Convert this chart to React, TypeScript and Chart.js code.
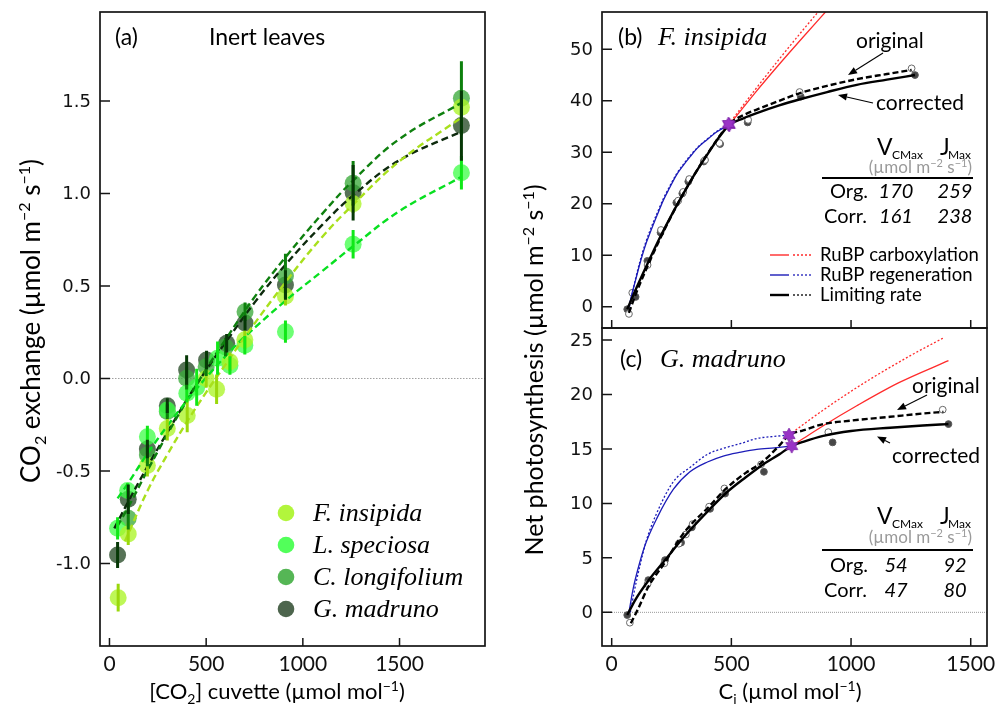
import { useEffect, useRef } from 'react';
import { Chart, registerables } from 'chart.js';

Chart.register(...registerables);

const W = 997;
const H = 712;

const SANS = 'Lato, "Open Sans", sans-serif';
const WIDE = '"DejaVu Sans", Verdana, sans-serif';
const SERIF = '"Liberation Serif", "Times New Roman", serif';

// ---------- (a) Inert leaves: CO2 exchange against cuvette CO2 ----------
const speciesNames = ['F. insipida', 'L. speciosa', 'C. longifolium', 'G. madruno'];

const insipidaCO2 = [45, 97, 196, 299, 402, 500, 554, 623, 700, 910, 1260, 1820];
const insipidaFlux = [-1.185, -0.84, -0.47, -0.27, -0.2, 0.0, -0.058, 0.09, 0.21, 0.445, 0.945, 1.466];
const insipidaErr = [0.075, 0.06, 0.06, 0.065, 0.09, 0.05, 0.08, 0.05, 0.05, 0.05, 0.05, 0.065];

const speciosaCO2 = [42, 94, 196, 299, 400, 451, 559, 623, 700, 910, 1260, 1820];
const speciosaFlux = [-0.81, -0.606, -0.315, -0.17, -0.08, -0.048, 0.11, 0.07, 0.18, 0.253, 0.725, 1.112];
const speciosaErr = [0.06, 0.04, 0.06, 0.04, 0.05, 0.1, 0.09, 0.05, 0.05, 0.06, 0.077, 0.09];

const longifoliumCO2 = [97, 196, 299, 399, 500, 600, 701, 910, 1260, 1820];
const longifoliumFlux = [-0.756, -0.414, -0.179, 0.001, 0.064, 0.17, 0.361, 0.554, 1.055, 1.515];
const longifoliumErr = [0.06, 0.06, 0.04, 0.06, 0.05, 0.05, 0.05, 0.12, 0.12, 0.2];

const madrunoCO2 = [42, 97, 196, 299, 399, 502, 606, 701, 910, 1260, 1820];
const madrunoFlux = [-0.954, -0.653, -0.381, -0.147, 0.046, 0.1, 0.19, 0.3, 0.505, 1.004, 1.367];
const madrunoErr = [0.07, 0.08, 0.05, 0.04, 0.08, 0.05, 0.05, 0.04, 0.08, 0.15, 0.19];

// fitted response curves (dashed)
const insipidaFitCO2 = [80, 200, 300, 400, 500, 600, 700, 910, 1100, 1260, 1500, 1820];
const insipidaFitFlux = [-0.88, -0.6, -0.41, -0.235, -0.075, 0.075, 0.225, 0.52, 0.765, 0.94, 1.175, 1.41];
const speciosaFitCO2 = [42, 100, 200, 300, 400, 500, 600, 700, 910, 1100, 1260, 1500, 1820];
const speciosaFitFlux = [-0.648, -0.56, -0.4, -0.255, -0.12, 0.005, 0.12, 0.225, 0.42, 0.58, 0.715, 0.905, 1.09];
const longifoliumFitCO2 = [40, 100, 200, 300, 400, 500, 600, 750, 910, 1100, 1260, 1500, 1820];
const longifoliumFitFlux = [-0.8, -0.69, -0.49, -0.3, -0.12, 0.05, 0.21, 0.44, 0.655, 0.89, 1.07, 1.295, 1.49];
const madrunoFitCO2 = [25, 100, 200, 300, 400, 500, 600, 750, 910, 1100, 1260, 1500, 1820];
const madrunoFitFlux = [-0.81, -0.66, -0.47, -0.29, -0.115, 0.045, 0.195, 0.41, 0.615, 0.83, 0.99, 1.18, 1.335];

const cuvetteTicks = [0, 500, 1000, 1500];
const exchangeTicks = [-1.0, -0.5, 0.0, 0.5, 1.0, 1.5];

// ---------- (b) F. insipida A/Ci ----------
const fiCiOrig = [72, 86, 150, 206, 278, 299, 324, 390, 450, 570, 785, 1253];
const fiAOrig = [-1.4, 2.7, 8.1, 14.9, 20.6, 22.3, 24.8, 28.5, 31.8, 36.3, 41.7, 46.3];
const fiCiCorr = [65, 100, 149, 204, 270, 295, 320, 385, 453, 568, 790, 1267];
const fiACorr = [-0.5, 1.9, 8.9, 14.4, 20.2, 22.0, 24.3, 28.2, 31.6, 35.8, 40.8, 45.0];

const fiLimCorrCi = [65, 100, 150, 200, 250, 300, 350, 400, 450, 491, 550, 606, 700, 787, 900, 1024, 1150, 1267];
const fiLimCorrA = [-0.5, 3.3, 8.4, 13.3, 17.8, 22.0, 26.0, 29.6, 33.0, 35.3, 36.6, 37.6, 39.1, 40.3, 41.7, 43.1, 44.1, 45.0];
const fiLimOrigCi = [72, 100, 150, 200, 250, 300, 350, 400, 450, 488, 550, 606, 700, 787, 900, 1024, 1150, 1253];
const fiLimOrigA = [-1.2, 2.4, 7.9, 13.0, 17.7, 22.0, 26.0, 29.7, 33.1, 35.4, 37.2, 38.3, 40.0, 41.5, 42.9, 44.2, 45.2, 46.0];
const fiCarbCorrCi = [491, 600, 700, 800, 900];
const fiCarbCorrA = [35.3, 41.6, 47.1, 52.4, 57.6];
const fiCarbOrigCi = [488, 600, 700, 800, 900];
const fiCarbOrigA = [35.4, 42.2, 48.1, 53.8, 59.3];
const fiRegCorrCi = [72, 85, 100, 118, 140, 160, 190, 216, 240, 271, 300, 327, 360, 397, 440, 491];
const fiRegCorrA = [0.0, 2.6, 5.2, 8.4, 11.8, 14.3, 17.8, 20.7, 22.9, 25.6, 27.5, 29.1, 30.9, 32.4, 34.0, 35.3];
const fiRegOrigCi = [74, 87, 100, 118, 140, 160, 190, 216, 240, 271, 300, 327, 360, 397, 440, 488];
const fiRegOrigA = [0.0, 2.8, 5.5, 8.8, 12.2, 14.8, 18.2, 21.0, 23.2, 25.8, 27.7, 29.3, 31.0, 32.5, 34.1, 35.4];
const fiTransCi = [491, 488];
const fiTransA = [35.3, 35.5];

const fiVcmax = [170, 161];
const fiJmax = [259, 238];

// ---------- (c) G. madruno A/Ci ----------
const gmCiOrig = [76, 150, 220, 280, 310, 338, 407, 471, 624, 905, 1383];
const gmAOrig = [-0.95, 2.6, 4.5, 6.3, 7.15, 8.1, 9.7, 11.37, 13.58, 16.54, 18.6];
const gmCiCorr = [65, 153, 223, 290, 335, 411, 474, 636, 923, 1407];
const gmACorr = [-0.25, 2.96, 4.8, 6.4, 7.8, 9.5, 10.9, 12.9, 15.6, 17.28];

const gmLimCorrCi = [65, 100, 153, 223, 299, 411, 480, 560, 634, 700, 752, 800, 884, 1000, 1163, 1300, 1407];
const gmLimCorrA = [-0.25, 1.2, 2.9, 4.8, 6.85, 9.5, 11.0, 12.4, 13.6, 14.5, 15.26, 15.65, 16.2, 16.65, 16.95, 17.15, 17.28];
const gmLimOrigCi = [80, 110, 153, 223, 300, 411, 480, 560, 624, 700, 741, 800, 884, 1000, 1163, 1300, 1386];
const gmLimOrigA = [-1.0, 0.3, 2.35, 4.6, 7.25, 9.8, 11.4, 12.8, 13.7, 15.3, 16.27, 16.7, 17.28, 17.6, 17.95, 18.25, 18.4];
const gmCarbCorrCi = [752, 800, 884, 1024, 1200, 1407];
const gmCarbCorrA = [15.26, 15.95, 17.13, 18.96, 21.08, 23.1];
const gmCarbOrigCi = [741, 800, 884, 1000, 1100, 1250, 1386];
const gmCarbOrigA = [16.27, 17.24, 18.57, 20.29, 21.67, 23.59, 25.19];
const gmRegCorrCi = [72, 90, 110, 140, 188, 258, 327, 400, 466, 540, 606, 680, 752];
const gmRegCorrA = [0.0, 2.2, 4.0, 6.2, 8.6, 11.3, 12.9, 13.8, 14.35, 14.7, 14.95, 15.1, 15.26];
const gmRegOrigCi = [78, 95, 115, 145, 188, 258, 327, 400, 466, 540, 606, 680, 741];
const gmRegOrigA = [0.0, 2.0, 4.0, 6.6, 9.1, 12.0, 13.3, 14.5, 15.05, 15.5, 15.96, 16.15, 16.27];
const gmTransCi = [752, 741];
const gmTransA = [15.26, 16.27];

const gmVcmax = [54, 47];
const gmJmax = [92, 80];

const ciTicks = [0, 500, 1000, 1500];
const fiATicks = [0, 10, 20, 30, 40, 50];
const gmATicks = [0, 5, 10, 15, 20, 25];

// ---------- styling ----------
const speciesPoint = ['rgba(172,245,40,0.78)', 'rgba(60,255,70,0.75)', 'rgba(60,170,60,0.78)', 'rgba(40,75,40,0.78)'];
const speciesLegend = ['#b2f53c', '#52ff5a', '#55b655', '#4d654d'];
const speciesBar = ['#9ad80c', '#10e818', '#0d800d', '#063806'];
const speciesLine = ['#a8e01c', '#08e020', '#0f800f', '#0d2a0d'];

const RED = '#ff2b2b';
const BLUE = '#1c1cb8';
const PURPLE = '#9a34c6';

type Seg = { t: string; s?: 'sub' | 'sup' };

function xy(xs: number[], ys: number[]) {
  return xs.map((x, i) => ({ x, y: ys[i] }));
}

function drawRich(ctx: CanvasRenderingContext2D, segs: Seg[], x: number, y: number, size: number, opts: any = {}) {
  const align = opts.align || 'left';
  const family = opts.family || SANS;
  const style = opts.style || '';
  const fontFor = (s: Seg) => `${style} ${s.s ? Math.round(size * 0.62) : size}px ${family}`;
  let total = 0;
  for (const s of segs) {
    ctx.font = fontFor(s);
    total += ctx.measureText(s.t).width;
  }
  let cx = align === 'center' ? x - total / 2 : align === 'right' ? x - total : x;
  ctx.fillStyle = opts.color || '#000';
  ctx.textAlign = 'left';
  ctx.textBaseline = 'alphabetic';
  for (const s of segs) {
    ctx.font = fontFor(s);
    const dy = s.s === 'sub' ? size * 0.22 : s.s === 'sup' ? -size * 0.38 : 0;
    ctx.fillText(s.t, cx, y + dy);
    cx += ctx.measureText(s.t).width;
  }
}

function drawText(ctx: CanvasRenderingContext2D, t: string, x: number, y: number, font: string, align: CanvasTextAlign = 'left', color = '#000') {
  ctx.font = font;
  ctx.fillStyle = color;
  ctx.textAlign = align;
  ctx.textBaseline = 'alphabetic';
  ctx.fillText(t, x, y);
}

function drawArrow(ctx: CanvasRenderingContext2D, x1: number, y1: number, x2: number, y2: number) {
  const ang = Math.atan2(y2 - y1, x2 - x1);
  const len = 9;
  const half = 3.6;
  const bx = x2 - len * Math.cos(ang);
  const by = y2 - len * Math.sin(ang);
  ctx.strokeStyle = '#000';
  ctx.fillStyle = '#000';
  ctx.lineWidth = 1.1;
  ctx.setLineDash([]);
  ctx.beginPath();
  ctx.moveTo(x1, y1);
  ctx.lineTo(bx, by);
  ctx.stroke();
  ctx.beginPath();
  ctx.moveTo(x2, y2);
  ctx.lineTo(bx + half * Math.sin(ang), by - half * Math.cos(ang));
  ctx.lineTo(bx - half * Math.sin(ang), by + half * Math.cos(ang));
  ctx.closePath();
  ctx.fill();
}

function drawFrame(chart: any, xTicks: number[], yTicks: number[], xLabels: boolean, yFmt: (v: number) => string, yLabelRight: number) {
  const { ctx, chartArea: a, scales } = chart;
  ctx.save();
  ctx.setLineDash([]);
  ctx.strokeStyle = '#151515';
  ctx.lineWidth = 1.7;
  ctx.strokeRect(a.left, a.top, a.right - a.left, a.bottom - a.top);
  ctx.lineWidth = 1.5;
  ctx.beginPath();
  for (const v of xTicks) {
    const px = scales.x.getPixelForValue(v);
    ctx.moveTo(px, a.bottom);
    ctx.lineTo(px, a.bottom - 8);
  }
  for (const v of yTicks) {
    const py = scales.y.getPixelForValue(v);
    ctx.moveTo(a.left, py);
    ctx.lineTo(a.left + 10, py);
  }
  ctx.stroke();
  ctx.fillStyle = '#111';
  ctx.textBaseline = 'middle';
  if (xLabels) {
    ctx.font = `21px ${SANS}`;
    ctx.textAlign = 'center';
    for (const v of xTicks) ctx.fillText(String(v), scales.x.getPixelForValue(v), a.bottom + 18);
  }
  ctx.font = `18px ${WIDE}`;
  ctx.textAlign = 'right';
  for (const v of yTicks) ctx.fillText(yFmt(v), yLabelRight, scales.y.getPixelForValue(v) + 1);
  ctx.restore();
}

function drawZeroLine(chart: any, color: string, dash: number[]) {
  const { ctx, chartArea: a, scales } = chart;
  const py = scales.y.getPixelForValue(0);
  ctx.save();
  ctx.strokeStyle = color;
  ctx.lineWidth = 1;
  ctx.setLineDash(dash);
  ctx.beginPath();
  ctx.moveTo(a.left, py);
  ctx.lineTo(a.right, py);
  ctx.stroke();
  ctx.restore();
}

function baseOptions(area: { l: number; t: number; r: number; b: number }, xr: number[], yr: number[]) {
  return {
    animation: false,
    responsive: false,
    maintainAspectRatio: false,
    events: [],
    layout: { padding: { left: area.l, top: area.t, right: W - area.r, bottom: H - area.b } },
    scales: {
      x: { type: 'linear', display: false, min: xr[0], max: xr[1] },
      y: { type: 'linear', display: false, min: yr[0], max: yr[1] },
    },
    plugins: { legend: { display: false }, tooltip: { enabled: false } },
  };
}

function makeStar(): HTMLCanvasElement {
  const c = document.createElement('canvas');
  c.width = 16;
  c.height = 16;
  const g = c.getContext('2d')!;
  g.translate(8, 8);
  g.fillStyle = PURPLE;
  g.strokeStyle = '#7a1fa6';
  g.lineWidth = 0.8;
  g.beginPath();
  for (let k = 0; k < 12; k++) {
    const r = k % 2 === 0 ? 7 : 3.9;
    const ang = -Math.PI / 2 + (k * Math.PI) / 6;
    const px = r * Math.cos(ang);
    const py = r * Math.sin(ang);
    if (k === 0) g.moveTo(px, py);
    else g.lineTo(px, py);
  }
  g.closePath();
  g.fill();
  g.stroke();
  return c;
}

// ---------- panel (a) ----------
function configA(): any {
  const fitX = [insipidaFitCO2, speciosaFitCO2, longifoliumFitCO2, madrunoFitCO2];
  const fitY = [insipidaFitFlux, speciosaFitFlux, longifoliumFitFlux, madrunoFitFlux];
  const obsX = [insipidaCO2, speciosaCO2, longifoliumCO2, madrunoCO2];
  const obsY = [insipidaFlux, speciosaFlux, longifoliumFlux, madrunoFlux];
  const obsE = [insipidaErr, speciosaErr, longifoliumErr, madrunoErr];

  const lines = speciesNames.map((name, i) => ({
    label: name + ' fit',
    data: xy(fitX[i], fitY[i]),
    showLine: true,
    pointRadius: 0,
    borderColor: speciesLine[i],
    borderWidth: 2.4,
    borderDash: [7, 4],
    tension: 0.4,
    fill: false,
  }));
  const points = speciesNames.map((name, i) => ({
    label: name,
    data: xy(obsX[i], obsY[i]),
    errors: obsE[i],
    errorColor: speciesBar[i],
    showLine: false,
    pointRadius: 8.5,
    pointBorderWidth: 0,
    backgroundColor: speciesPoint[i],
    borderColor: 'rgba(0,0,0,0)',
  }));

  const plugin = {
    id: 'panelA',
    beforeDatasetsDraw(chart: any) {
      drawZeroLine(chart, '#a0a0a0', [1.5, 1.5]);
    },
    afterDatasetsDraw(chart: any) {
      const { ctx, scales } = chart;
      ctx.save();
      ctx.lineWidth = 3;
      ctx.setLineDash([]);
      chart.data.datasets.forEach((ds: any) => {
        if (!ds.errors) return;
        ctx.strokeStyle = ds.errorColor;
        ctx.beginPath();
        ds.data.forEach((p: any, i: number) => {
          const px = scales.x.getPixelForValue(p.x);
          ctx.moveTo(px, scales.y.getPixelForValue(p.y + ds.errors[i]));
          ctx.lineTo(px, scales.y.getPixelForValue(p.y - ds.errors[i]));
        });
        ctx.stroke();
      });
      ctx.restore();
    },
    afterDraw(chart: any) {
      const { ctx } = chart;
      drawFrame(chart, cuvetteTicks, exchangeTicks, true, (v) => v.toFixed(1), 91);
      ctx.save();
      drawText(ctx, '(a)', 115, 45, `23px ${SANS}`);
      drawText(ctx, 'Inert leaves', 209, 45, `23px ${SANS}`);
      // legend
      const rows = [513, 545, 577, 609];
      speciesNames.forEach((name, i) => {
        ctx.fillStyle = speciesLegend[i];
        ctx.beginPath();
        ctx.arc(286, rows[i], 8.3, 0, Math.PI * 2);
        ctx.fill();
        drawText(ctx, name, 313, rows[i] + 8, `italic 26px ${SERIF}`);
      });
      // axis titles
      drawRich(ctx, [{ t: '[CO' }, { t: '2', s: 'sub' }, { t: '] cuvette (µmol mol' }, { t: '−1', s: 'sup' }, { t: ')' }], 277, 699, 22, { align: 'center' });
      ctx.translate(40, 321);
      ctx.rotate(-Math.PI / 2);
      drawRich(ctx, [{ t: 'CO' }, { t: '2', s: 'sub' }, { t: ' exchange (µmol m' }, { t: '−2', s: 'sup' }, { t: ' s' }, { t: '−1', s: 'sup' }, { t: ')' }], 0, 0, 26, { align: 'center' });
      ctx.restore();
    },
  };

  return {
    type: 'scatter',
    data: { datasets: [...lines, ...points] },
    options: baseOptions({ l: 100, t: 12, r: 485, b: 646 }, [-49, 1942], [-1.446, 1.981]),
    plugins: [plugin],
  };
}

// ---------- panels (b) and (c) ----------
function aciDatasets(d: any, star: HTMLCanvasElement) {
  const curve = (data: any, color: string, width: number, dash: number[]) => ({
    data,
    showLine: true,
    pointRadius: 0,
    borderColor: color,
    borderWidth: width,
    borderDash: dash,
    cubicInterpolationMode: 'monotone',
    fill: false,
  });
  return [
    { data: d.trans, pointStyle: star, pointRadius: 6, showLine: false },
    curve(d.limCorr, '#000', 2.4, []),
    curve(d.limOrig, '#000', 2.4, [6, 3]),
    curve(d.carbCorr, RED, 1.3, []),
    curve(d.carbOrig, RED, 1.3, [2, 2]),
    curve(d.regCorr, BLUE, 1.3, []),
    curve(d.regOrig, BLUE, 1.3, [2, 2]),
    { data: d.orig, showLine: false, pointRadius: 3.4, backgroundColor: '#fff', borderColor: '#6a6a6a', borderWidth: 1 },
    { data: d.corr, showLine: false, pointRadius: 3.4, backgroundColor: '#474747', borderColor: '#5a5a5a', borderWidth: 1 },
  ];
}

function drawTable(ctx: CanvasRenderingContext2D, lineY: number, vc: number[], jm: number[], dy: number[]) {
  drawText(ctx, 'V', 877, lineY + dy[0], `23px ${SANS}`);
  drawText(ctx, 'CMax', 892, lineY + dy[0] + 4, `12px ${SANS}`);
  drawText(ctx, 'J', 940, lineY + dy[0], `23px ${SANS}`);
  drawText(ctx, 'Max', 948, lineY + dy[0] + 4, `12px ${SANS}`);
  drawRich(ctx, [{ t: '(µmol m' }, { t: '−2', s: 'sup' }, { t: ' s' }, { t: '−1', s: 'sup' }, { t: ')' }], 972, lineY + dy[1], 17, { align: 'right', color: '#9a9a9a' });
  ctx.strokeStyle = '#000';
  ctx.lineWidth = 2;
  ctx.setLineDash([]);
  ctx.beginPath();
  ctx.moveTo(822, lineY);
  ctx.lineTo(973, lineY);
  ctx.stroke();
  drawText(ctx, 'Org.', 868, lineY + dy[2], `20px ${SANS}`, 'right');
  drawText(ctx, 'Corr.', 867, lineY + dy[3], `20px ${SANS}`, 'right');
  drawText(ctx, String(vc[0]), 896, lineY + dy[2], `italic 20px ${SANS}`, 'center');
  drawText(ctx, String(jm[0]), 955, lineY + dy[2], `italic 20px ${SANS}`, 'center');
  drawText(ctx, String(vc[1]), 896, lineY + dy[3], `italic 20px ${SANS}`, 'center');
  drawText(ctx, String(jm[1]), 955, lineY + dy[3], `italic 20px ${SANS}`, 'center');
}

function configB(star: HTMLCanvasElement): any {
  const plugin = {
    id: 'panelB',
    afterDraw(chart: any) {
      const { ctx } = chart;
      drawFrame(chart, ciTicks, fiATicks, false, (v) => String(v), 593);
      ctx.save();
      drawText(ctx, '(b)', 618, 45, `23px ${SANS}`);
      drawText(ctx, 'F. insipida', 658, 45, `italic 26px ${SERIF}`);
      drawText(ctx, 'original', 856, 48, `21px ${SANS}`);
      drawText(ctx, 'corrected', 876, 110, `21px ${SANS}`);
      drawArrow(ctx, 883, 53, 848, 75);
      drawArrow(ctx, 873, 103, 838, 95);
      drawTable(ctx, 178, fiVcmax, fiJmax, [-23, -5, 20, 44.5]);
      // line-type key
      const keys = [
        { c: RED, t: 'RuBP carboxylation', y: 255, w: 1.4 },
        { c: BLUE, t: 'RuBP regeneration', y: 275, w: 1.4 },
        { c: '#000', t: 'Limiting rate', y: 295, w: 2.4 },
      ];
      for (const k of keys) {
        ctx.strokeStyle = k.c;
        ctx.lineWidth = k.w;
        ctx.setLineDash([]);
        ctx.beginPath();
        ctx.moveTo(770, k.y);
        ctx.lineTo(789, k.y);
        ctx.stroke();
        ctx.setLineDash([2, 2]);
        ctx.lineWidth = 1.3;
        ctx.beginPath();
        ctx.moveTo(793, k.y);
        ctx.lineTo(811, k.y);
        ctx.stroke();
        drawText(ctx, k.t, 820, k.y + 6, `18.5px ${SANS}`);
      }
      ctx.restore();
    },
  };
  const d = {
    trans: xy(fiTransCi, fiTransA),
    limCorr: xy(fiLimCorrCi, fiLimCorrA),
    limOrig: xy(fiLimOrigCi, fiLimOrigA),
    carbCorr: xy(fiCarbCorrCi, fiCarbCorrA),
    carbOrig: xy(fiCarbOrigCi, fiCarbOrigA),
    regCorr: xy(fiRegCorrCi, fiRegCorrA),
    regOrig: xy(fiRegOrigCi, fiRegOrigA),
    orig: xy(fiCiOrig, fiAOrig),
    corr: xy(fiCiCorr, fiACorr),
  };
  return {
    type: 'scatter',
    data: { datasets: aciDatasets(d, star) },
    options: baseOptions({ l: 602, t: 12, r: 987, b: 328 }, [-40.5, 1568], [-4.14, 57.25]),
    plugins: [plugin],
  };
}

function configC(star: HTMLCanvasElement): any {
  const plugin = {
    id: 'panelC',
    beforeDatasetsDraw(chart: any) {
      drawZeroLine(chart, '#9a9a9a', [1, 1]);
    },
    afterDraw(chart: any) {
      const { ctx } = chart;
      drawFrame(chart, ciTicks, gmATicks, true, (v) => String(v), 593);
      ctx.save();
      drawText(ctx, '(c)', 620, 367, `23px ${SANS}`);
      drawText(ctx, 'G. madruno', 660, 367, `italic 26px ${SERIF}`);
      drawText(ctx, 'original', 912, 393, `21px ${SANS}`);
      drawText(ctx, 'corrected', 892, 463, `21px ${SANS}`);
      drawArrow(ctx, 927, 395, 897, 410);
      drawArrow(ctx, 890, 443, 877, 436.5);
      drawTable(ctx, 550, gmVcmax, gmJmax, [-26, -7, 22, 47]);
      // shared titles for (b) and (c)
      drawRich(ctx, [{ t: 'C' }, { t: 'i', s: 'sub' }, { t: ' (µmol mol' }, { t: '−1', s: 'sup' }, { t: ')' }], 790, 699, 22, { align: 'center' });
      ctx.translate(543, 370);
      ctx.rotate(-Math.PI / 2);
      drawRich(ctx, [{ t: 'Net photosynthesis (µmol m' }, { t: '−2', s: 'sup' }, { t: ' s' }, { t: '−1', s: 'sup' }, { t: ')' }], 0, 0, 25, { align: 'center' });
      ctx.restore();
    },
  };
  const d = {
    trans: xy(gmTransCi, gmTransA),
    limCorr: xy(gmLimCorrCi, gmLimCorrA),
    limOrig: xy(gmLimOrigCi, gmLimOrigA),
    carbCorr: xy(gmCarbCorrCi, gmCarbCorrA),
    carbOrig: xy(gmCarbOrigCi, gmCarbOrigA),
    regCorr: xy(gmRegCorrCi, gmRegCorrA),
    regOrig: xy(gmRegOrigCi, gmRegOrigA),
    orig: xy(gmCiOrig, gmAOrig),
    corr: xy(gmCiCorr, gmACorr),
  };
  return {
    type: 'scatter',
    data: { datasets: aciDatasets(d, star) },
    options: baseOptions({ l: 602, t: 328, r: 987, b: 646 }, [-40.5, 1568], [-3.09, 26.1]),
    plugins: [plugin],
  };
}

export default function App() {
  const refA = useRef<HTMLCanvasElement>(null);
  const refB = useRef<HTMLCanvasElement>(null);
  const refC = useRef<HTMLCanvasElement>(null);

  useEffect(() => {
    const star = makeStar();
    const charts = [
      new Chart(refA.current!, configA()),
      new Chart(refB.current!, configB(star)),
      new Chart(refC.current!, configC(star)),
    ];
    return () => charts.forEach((c) => c.destroy());
  }, []);

  const canvasStyle: any = { position: 'absolute', left: 0, top: 0, width: W, height: H };
  return (
    <div style={{ position: 'absolute', left: 0, top: 0, width: W, height: H, background: '#fff', overflow: 'hidden' }}>
      <canvas ref={refA} width={W} height={H} style={canvasStyle} />
      <canvas ref={refB} width={W} height={H} style={canvasStyle} />
      <canvas ref={refC} width={W} height={H} style={canvasStyle} />
    </div>
  );
}
